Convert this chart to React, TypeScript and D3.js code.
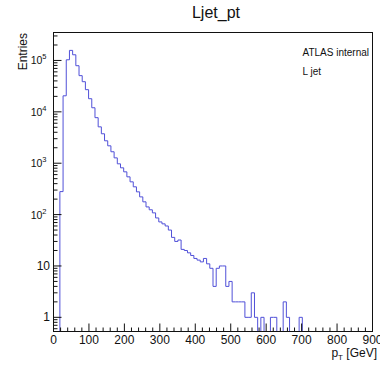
import { useEffect, useRef } from 'react';
import * as d3 from 'd3';

// histogram: 100 bins over 0-900 GeV
const title = 'Ljet_pt';
const xMin = 0;
const xMax = 900;
const entries = [
  0, 0, 280, 20500, 103000, 157000, 129000, 79000, 50600, 38600,
  27000, 18000, 12000, 7700, 5100, 3740, 2730, 2180, 1670, 1270,
  973, 813, 679, 543, 434, 347, 277, 221, 177, 141,
  124, 108, 86, 72, 66, 60, 50, 36, 30, 32,
  21, 20, 18, 16, 14, 13, 12, 14, 11, 9,
  4, 9, 10, 10, 4, 5, 2, 2, 2, 2,
  1, 1, 3, 1, 0, 1, 0, 0, 1, 1,
  0, 0, 2, 1, 0, 0, 0, 1, 0, 0,
  0, 0, 0, 0, 0, 0, 0, 0, 0, 0,
  0, 0, 0, 0, 0, 0, 0, 0, 0, 0,
];
const xTicks = [0, 100, 200, 300, 400, 500, 600, 700, 800, 900];
const yDecades = [0, 1, 2, 3, 4, 5];
const legendLines = ['ATLAS internal', 'L jet'];

const font = '"Liberation Sans", Arial, Helvetica, sans-serif';

const App = () => {
  const svgRef = useRef(null);

  useEffect(() => {
    const width = 380;
    const height = 365;
    const svg = d3.select(svgRef.current);
    svg.selectAll('*').remove();
    svg.attr('width', width).attr('height', height);

    const margin = { top: 32.5, right: 7.5, bottom: 33.5, left: 53.5 };
    const x = d3.scaleLinear().domain([xMin, xMax]).range([margin.left, width - margin.right]);
    const y = d3.scaleLog().domain([0.53, 3.5e5]).range([height - margin.bottom, margin.top]);
    const yb = height - margin.bottom;
    const binW = (xMax - xMin) / entries.length;

    svg.append('rect').attr('width', width).attr('height', height).attr('fill', '#fff');

    // histogram outline
    const p = d3.path();
    p.moveTo(x(xMin), yb);
    entries.forEach((v, i) => {
      const lo = xMin + i * binW;
      const yy = v > 0 ? y(v) : yb;
      p.lineTo(x(lo), yy);
      p.lineTo(x(lo + binW), yy);
    });
    p.lineTo(x(xMax), yb);
    svg.append('path')
      .attr('d', p.toString())
      .attr('fill', 'none')
      .attr('stroke', '#5050d8')
      .attr('stroke-width', 1);

    // frame
    svg.append('rect')
      .attr('x', margin.left)
      .attr('y', margin.top)
      .attr('width', width - margin.left - margin.right)
      .attr('height', yb - margin.top)
      .attr('fill', 'none')
      .attr('stroke', '#111')
      .attr('stroke-width', 1);

    // x ticks
    const xg = svg.append('g').attr('stroke', '#111').attr('stroke-width', 1);
    d3.range(xMin, xMax + 1, 20).forEach(t => {
      const len = t % 100 === 0 ? 8 : 4;
      xg.append('line')
        .attr('x1', x(t)).attr('x2', x(t))
        .attr('y1', yb).attr('y2', yb - len);
    });
    svg.selectAll('text.xl')
      .data(xTicks)
      .enter()
      .append('text')
      .attr('class', 'xl')
      .attr('x', d => x(d))
      .attr('y', 344)
      .attr('text-anchor', 'middle')
      .attr('font-family', font)
      .attr('font-size', '12px')
      .attr('fill', '#111')
      .text(d => d);

    // y ticks (log)
    const yg = svg.append('g').attr('stroke', '#111').attr('stroke-width', 1);
    const [lo, hi] = y.domain();
    for (let d = -1; d <= 5; d++) {
      for (let m = 1; m <= 9; m++) {
        const v = m * Math.pow(10, d);
        if (v < lo || v > hi) continue;
        const len = m === 1 ? 8 : 4;
        yg.append('line')
          .attr('x1', margin.left).attr('x2', margin.left + len)
          .attr('y1', y(v)).attr('y2', y(v));
      }
    }
    yDecades.forEach(d => {
      const yy = y(Math.pow(10, d)) + 4;
      if (d < 2) {
        svg.append('text')
          .attr('x', 50)
          .attr('y', yy)
          .attr('text-anchor', 'end')
          .attr('font-family', font)
          .attr('font-size', '12px')
          .attr('fill', '#111')
          .text(d === 0 ? '1' : '10');
      } else {
        const t = svg.append('text')
          .attr('x', 46.5)
          .attr('y', yy)
          .attr('text-anchor', 'end')
          .attr('font-family', font)
          .attr('fill', '#111');
        t.append('tspan').attr('font-size', '10.5px').text('10');
        t.append('tspan').attr('font-size', '7.5px').attr('dy', -5).text(d);
      }
    });

    // titles
    svg.append('text')
      .attr('x', 216)
      .attr('y', 18)
      .attr('text-anchor', 'middle')
      .attr('font-family', font)
      .attr('font-size', '16px')
      .attr('fill', '#111')
      .text(title);

    svg.append('text')
      .attr('transform', 'translate(26.5,33) rotate(-90)')
      .attr('text-anchor', 'end')
      .attr('font-family', font)
      .attr('font-size', '12px')
      .attr('fill', '#111')
      .text('Entries');

    const xt = svg.append('text')
      .attr('x', 377)
      .attr('y', 357)
      .attr('text-anchor', 'end')
      .attr('font-family', font)
      .attr('font-size', '12px')
      .attr('fill', '#111');
    xt.append('tspan').text('p');
    xt.append('tspan').attr('font-size', '8px').attr('dy', 3).text('T');
    xt.append('tspan').attr('dy', -3).text(' [GeV]');

    // legend text
    svg.selectAll('text.leg')
      .data(legendLines)
      .enter()
      .append('text')
      .attr('class', 'leg')
      .attr('x', 302.5)
      .attr('y', (d, i) => 56 + i * 19)
      .attr('font-family', font)
      .attr('font-size', '10px')
      .attr('fill', '#111')
      .text(d => d);
  }, []);

  return (
    <div style={{ position: 'fixed', left: 0, top: 0 }}>
      <svg ref={svgRef} style={{ display: 'block' }} />
    </div>
  );
};

export default App;
